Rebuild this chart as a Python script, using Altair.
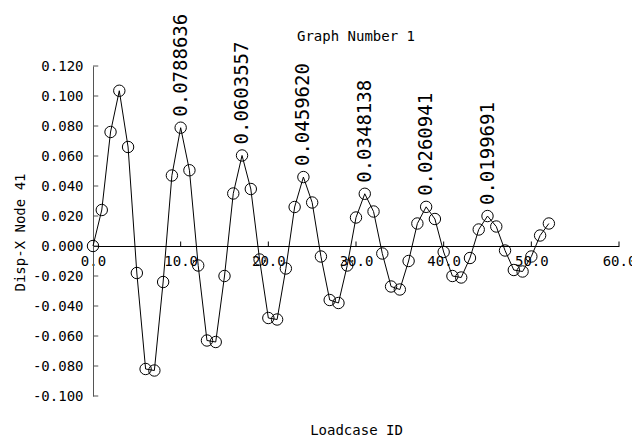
import altair as alt
import pandas as pd

# Loadcase IDs and the X displacement of node 41 at each loadcase
loadcase = list(range(53))
disp_x = [
    0.000, 0.024, 0.076, 0.1035, 0.066, -0.018, -0.082, -0.083, -0.024, 0.047,
    0.0788636, 0.0505, -0.013, -0.063, -0.064, -0.020, 0.035, 0.0603557, 0.038, -0.009,
    -0.048, -0.049, -0.015, 0.026, 0.0459620, 0.029, -0.007, -0.036, -0.038, -0.013,
    0.019, 0.0348138, 0.023, -0.005, -0.027, -0.029, -0.010, 0.015, 0.0260941, 0.018,
    -0.004, -0.020, -0.021, -0.008, 0.011, 0.0199691, 0.013, -0.003, -0.016, -0.017,
    -0.007, 0.007, 0.015,
]

# Peaks that carry a value annotation
peak_cases = [10, 17, 24, 31, 38, 45]
peak_values = [0.0788636, 0.0603557, 0.0459620, 0.0348138, 0.0260941, 0.0199691]

x_ticks = [0, 10, 20, 30, 40, 50, 60]
y_ticks = [-0.10, -0.08, -0.06, -0.04, -0.02, 0.0, 0.02, 0.04, 0.06, 0.08, 0.10, 0.12]

MONO = "DejaVu Sans Mono"

series = pd.DataFrame({"loadcase": loadcase, "disp": disp_x})
peaks = pd.DataFrame({
    "loadcase": peak_cases,
    "disp": peak_values,
    "label": [f"{v:.7f}" for v in peak_values],
})
xtick_df = pd.DataFrame({"loadcase": x_ticks[1:], "disp": 0.0, "top": 0.003})
ytick_df = pd.DataFrame({"disp": y_ticks, "loadcase": 0.0, "x1": 0.6})

x_scale = alt.Scale(domain=[0, 60], nice=False, zero=False)
y_scale = alt.Scale(domain=[-0.10, 0.12], nice=False, zero=False)

x_axis = alt.Axis(
    title="Loadcase ID",
    values=x_ticks,
    format=".1f",
    orient="bottom",
    offset=-150,
    ticks=False,
    tickSize=0,
    grid=False,
    domainColor="black",
    domainWidth=1,
    labelFont=MONO,
    labelFontSize=14,
    labelColor="black",
    labelPadding=8,
    labelBound=False,
    labelFlush=False,
    labelOverlap=False,
    titleFont=MONO,
    titleFontSize=14,
    titleFontWeight="normal",
    titleColor="black",
    titleY=184,
    titleBaseline="middle",
)

y_axis = alt.Axis(
    title="Disp-X Node 41",
    values=y_ticks,
    labelExpr="(datum.value < -1e-9 ? '-' : '') + format(abs(datum.value), '.3f')",
    ticks=False,
    tickSize=0,
    grid=False,
    domainColor="#555555",
    domainWidth=1,
    labelFont=MONO,
    labelFontSize=14,
    labelColor="black",
    labelPadding=10,
    labelOverlap=False,
    labelBound=False,
    labelFlush=False,
    titleFont=MONO,
    titleFontSize=14,
    titleFontWeight="normal",
    titleColor="black",
    titleX=-73,
    titleY=166,
    titleBaseline="middle",
    titleAngle=270,
)

X = alt.X("loadcase:Q", scale=x_scale, axis=x_axis)
Y = alt.Y("disp:Q", scale=y_scale, axis=y_axis)

base = alt.Chart(series)

line = base.mark_line(color="black", strokeWidth=1).encode(x=X, y=Y)

markers = base.mark_point(
    shape="circle", size=130, filled=False, stroke="black", strokeWidth=1, opacity=1
).encode(x=X, y=Y)

labels = alt.Chart(peaks).mark_text(
    angle=270, align="left", baseline="middle", dx=11,
    font=MONO, fontSize=19, color="black",
).encode(x=X, y=Y, text="label:N")

x_tick_marks = alt.Chart(xtick_df).mark_rule(color="black", strokeWidth=1).encode(
    x=X, y=Y, y2="top:Q",
)

y_tick_marks = alt.Chart(ytick_df).mark_rule(color="#555555", strokeWidth=1).encode(
    x=X, x2="x1:Q", y=Y,
)

heading = alt.Chart(pd.DataFrame({"t": ["Graph Number 1"]})).mark_text(
    font=MONO, fontSize=14, color="black", align="center", baseline="middle",
).encode(
    x=alt.value(263),
    y=alt.value(-29),
    text="t:N",
)

chart = alt.layer(
    y_tick_marks, x_tick_marks, line, markers, labels, heading
).properties(
    width=526,
    height=330,
    autosize=alt.AutoSizeParams(type="none"),
    padding={"left": 93, "top": 66, "right": 13, "bottom": 43},
    background="white",
).configure_view(stroke=None)

chart.save("out.html", embed_options={"renderer": "svg", "actions": False})
